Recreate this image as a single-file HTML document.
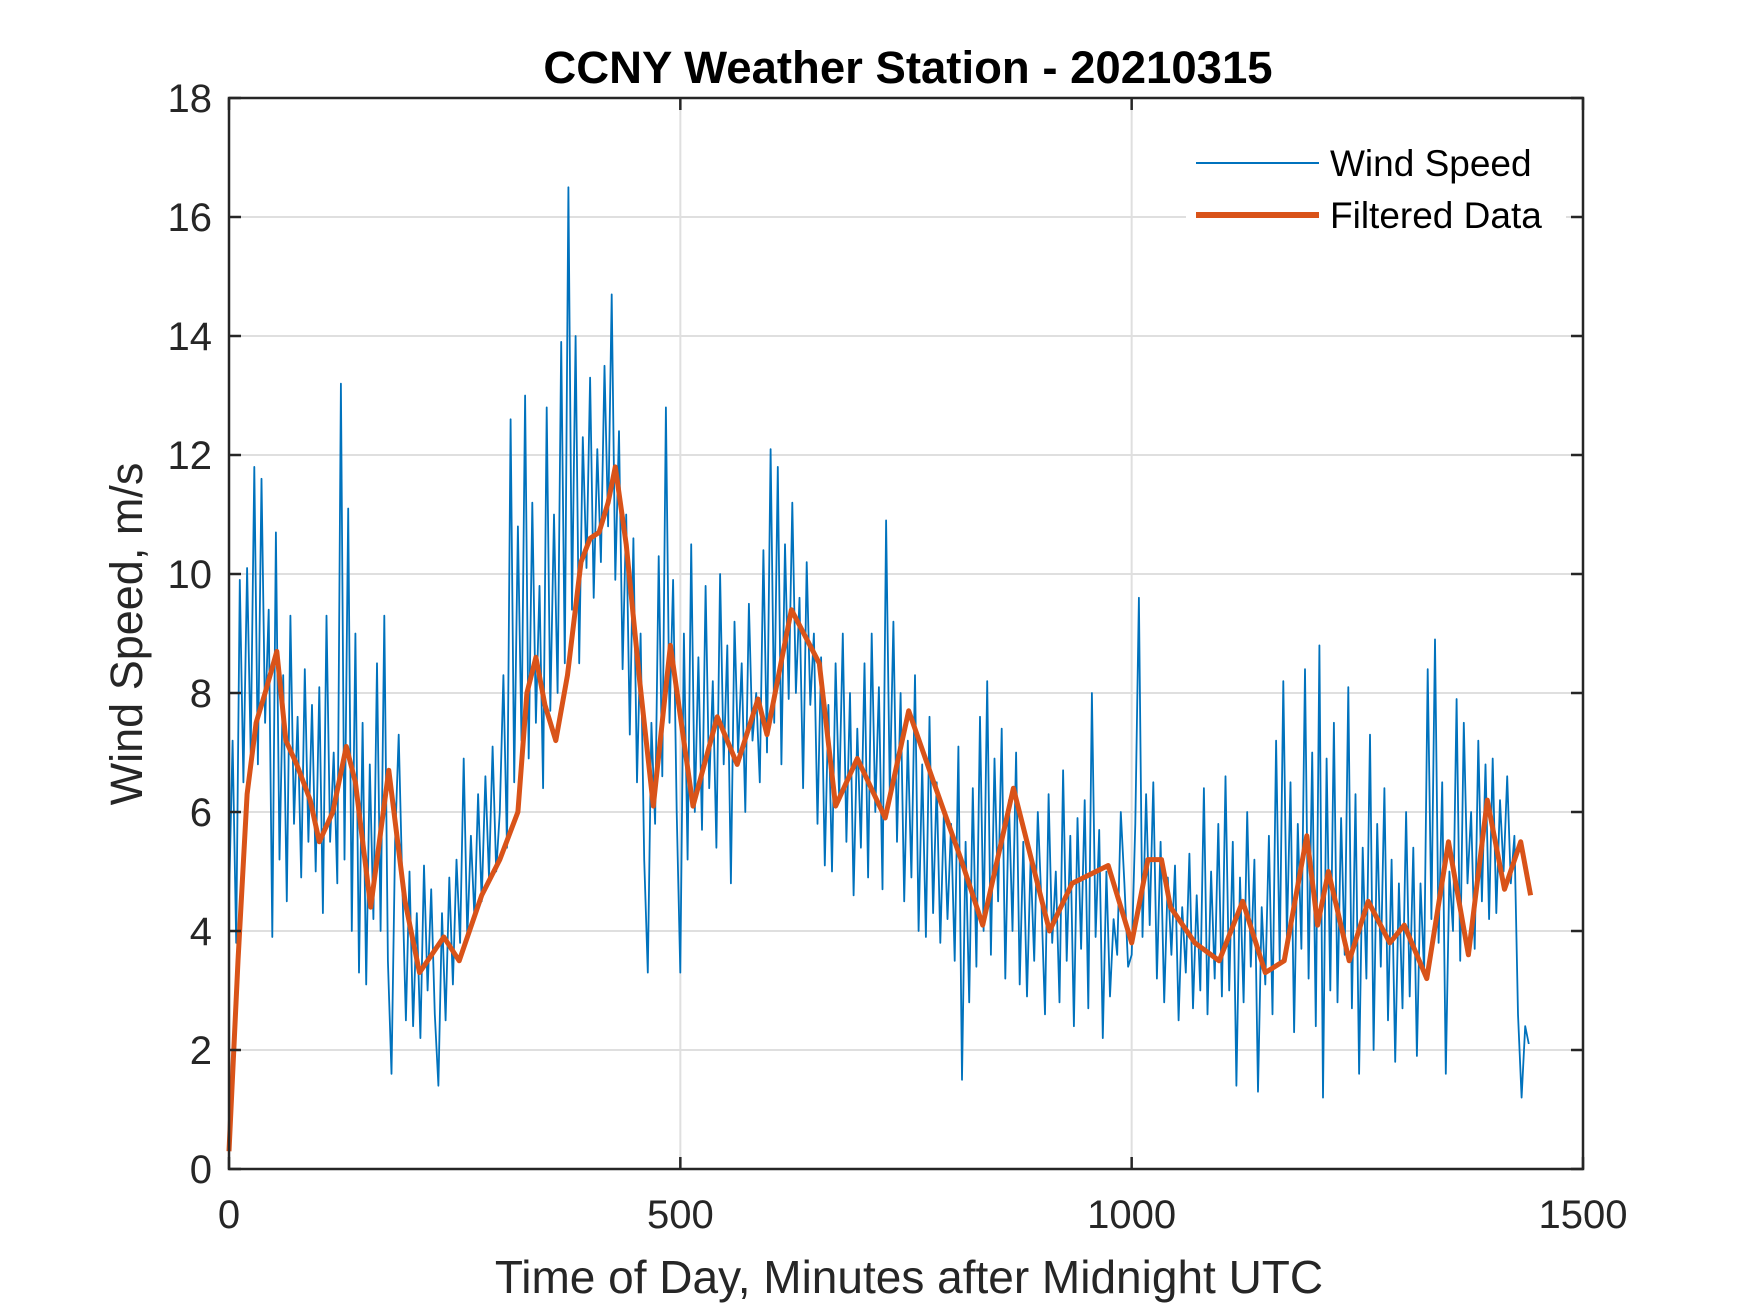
<!DOCTYPE html>
<html><head><meta charset="utf-8"><style>
html,body{margin:0;padding:0;background:#fff;}
svg{display:block;font-family:"Liberation Sans",Arial,sans-serif;}
</style></head><body>
<svg id="chart" width="1750" height="1313" viewBox="0 0 1750 1313" xmlns="http://www.w3.org/2000/svg">
<rect width="1750" height="1313" fill="#fff"/>
<g id="grid"></g>
<g id="series"></g>
<g id="axes"></g>
<text x="908" y="83" text-anchor="middle" font-size="45.5" font-weight="bold" fill="#000">CCNY Weather Station - 20210315</text>
<text x="909" y="1293" text-anchor="middle" font-size="46" fill="#262626">Time of Day, Minutes after Midnight UTC</text>
<text transform="translate(142,634) rotate(-90)" text-anchor="middle" font-size="45" fill="#262626">Wind Speed, m/s</text>
<g>
<rect x="1186" y="128" width="380" height="115" fill="#fff"/>
<line x1="1196" y1="163" x2="1319" y2="163" stroke="#0072BD" stroke-width="2"/>
<text x="1330" y="176" font-size="37" fill="#000">Wind Speed</text>
<line x1="1196" y1="215" x2="1319" y2="215" stroke="#D95319" stroke-width="6"/>
<text x="1330" y="228" font-size="37" fill="#000">Filtered Data</text>
</g>
</svg>
<script>
const xTicks=[0,500,1000,1500];
const yTicks=[0,2,4,6,8,10,12,14,16,18];
const windStep=4;
const windV=[4.5,7.2,3.8,9.9,6.5,10.1,7,11.8,6.8,11.6,7.5,9.4,3.9,10.7,5.2,8.3,4.5,9.3,5.8,7.6,4.9,8.4,5.5,7.8,5.0,
8.1,4.3,9.3,5.5,7.0,4.8,13.2,5.2,11.1,4.0,9.0,3.3,7.5,3.1,6.8,4.2,8.5,4.0,9.3,3.5,1.6,5.5,7.3,4.8,2.5,
5.0,2.4,4.3,2.2,5.1,3.0,4.7,2.6,1.4,4.3,2.5,4.9,3.1,5.2,3.8,6.9,3.9,5.6,4.2,6.3,4.5,6.6,4.9,7.1,5.0,
6.0,8.3,5.4,12.6,6.5,10.8,7.2,13.0,6.9,11.2,7.5,9.8,6.4,12.8,7.7,11.0,8.0,13.9,8.5,16.5,9.4,14.0,8.5,12.3,10.1,
13.3,9.6,12.1,10.2,13.5,10.8,14.7,9.9,12.4,8.4,11.0,7.3,10.6,6.5,9.0,5.2,3.3,7.5,5.8,10.3,6.6,12.8,7.5,9.9,6.0,
3.3,9.0,5.2,10.5,6.0,8.6,5.7,9.8,6.4,8.2,5.4,10.0,6.8,8.8,4.8,9.2,7.0,8.5,6.0,9.5,7.2,8.0,6.5,10.4,7.0,
12.1,7.5,11.8,6.8,10.5,7.9,11.2,8.0,9.6,6.4,10.2,7.8,9.0,5.8,8.6,5.1,7.8,5.0,8.5,6.2,9.0,5.5,8.0,4.6,7.4,
5.4,8.5,4.9,9.0,6.0,8.1,4.7,10.9,6.3,9.2,5.5,8.0,4.5,7.2,4.9,8.3,4.0,6.8,3.9,7.6,4.3,6.5,3.8,6.0,4.2,
5.8,3.5,7.1,1.5,5.5,2.8,6.4,3.4,7.6,4.0,8.2,3.6,6.9,4.5,7.4,3.2,6.2,4.0,7.0,3.1,5.5,2.9,5.2,3.5,6.0,
4.5,2.6,6.3,3.8,5.0,2.8,6.7,3.5,5.6,2.4,5.9,3.7,6.2,2.7,8.0,3.9,5.7,2.2,5.0,2.9,4.2,3.6,6.0,4.8,3.4,
3.6,5.8,9.6,3.9,6.3,4.1,6.5,3.2,5.5,2.8,4.9,3.6,5.1,2.5,4.4,3.3,5.3,2.7,4.6,3.0,6.4,2.6,5.0,3.2,5.8,
2.9,6.6,3.0,5.5,1.4,4.9,2.8,6.0,3.4,5.2,1.3,4.4,3.1,5.6,2.6,7.2,3.5,8.2,3.9,6.5,2.3,5.8,3.7,8.4,3.2,
7.0,2.4,8.8,1.2,6.9,3.0,7.5,2.8,5.9,3.6,8.1,2.7,6.3,1.6,5.4,3.2,7.3,2.0,5.8,3.4,6.4,2.5,5.2,1.8,4.8,
2.7,6.0,2.9,5.4,1.9,4.8,3.3,8.4,4.2,8.9,3.8,6.5,1.6,5.0,4.0,7.9,3.5,7.5,4.8,6.0,3.7,7.2,4.5,6.8,4.2,
6.9,4.3,6.2,5.0,6.6,4.8,5.6,2.6,1.2,2.4,2.1];
const filtT=[0,10,20,30,40,53,63,75,90,100,115,130,140,157,177,195,211,238,255,280,300,320,330,340,350,362,375,390,400,410,420,428,440,455,470,489,514,541,563,586,596,623,654,672,696,727,753,783,811,835,869,909,934,974,1000,1018,1033,1043,1070,1097,1123,1148,1169,1194,1206,1218,1241,1262,1286,1302,1327,1351,1373,1394,1413,1431,1442];
const filtV=[0.3,3.5,6.3,7.5,8.0,8.7,7.2,6.8,6.2,5.5,6.0,7.1,6.5,4.4,6.7,4.5,3.3,3.9,3.5,4.6,5.2,6.0,8.0,8.6,7.8,7.2,8.3,10.2,10.6,10.7,11.2,11.8,10.5,8.2,6.1,8.8,6.1,7.6,6.8,7.9,7.3,9.4,8.5,6.1,6.9,5.9,7.7,6.4,5.2,4.1,6.4,4.0,4.8,5.1,3.8,5.2,5.2,4.4,3.8,3.5,4.5,3.3,3.5,5.6,4.1,5.0,3.5,4.5,3.8,4.1,3.2,5.5,3.6,6.2,4.7,5.5,4.6];

const L=229,R=1583,T=98,B=1169;
const xS=v=>L+(v-0)/(1500-0)*(R-L);
const yS=v=>B-(v-0)/(18-0)*(B-T);
const NS='http://www.w3.org/2000/svg';
function mk(tag,attrs,parent){const e=document.createElementNS(NS,tag);for(const k in attrs)e.setAttribute(k,attrs[k]);parent.appendChild(e);return e;}
const grid=document.getElementById('grid'),axes=document.getElementById('axes'),series=document.getElementById('series');
xTicks.forEach(t=>{
  const x=xS(t);
  if(t>0&&t<1500){const g=mk('line',{x1:x,y1:T,x2:x,y2:B,stroke:'#dfdfdf','stroke-width':2},grid);
  
  }
  const a=mk('line',{x1:x,y1:B,x2:x,y2:B-12,stroke:'#262626','stroke-width':2.5},axes);
  
  
  const b=mk('line',{x1:x,y1:T,x2:x,y2:T+12,stroke:'#262626','stroke-width':2.5},axes);
  
  
  const tx=mk('text',{x:x,y:B+59,'text-anchor':'middle','font-size':40,fill:'#262626'},axes);
  tx.textContent=t;
  
  
});
yTicks.forEach(t=>{
  const y=yS(t);
  if(t>0&&t<18){const g=mk('line',{x1:L,y1:y,x2:R,y2:y,stroke:'#dfdfdf','stroke-width':2},grid);
  
  }
  const a=mk('line',{x1:L,y1:y,x2:L+12,y2:y,stroke:'#262626','stroke-width':2.5},axes);
  
  
  const b=mk('line',{x1:R,y1:y,x2:R-12,y2:y,stroke:'#262626','stroke-width':2.5},axes);
  
  
  const tx=mk('text',{x:L-17,y:y+14,'text-anchor':'end','font-size':40,fill:'#262626'},axes);
  tx.textContent=t;
  
  
});
const frame=mk('rect',{x:L,y:T,width:R-L,height:B-T,fill:'none',stroke:'#262626','stroke-width':2.5},axes);


const wp=windV.map((v,i)=>xS(i*windStep).toFixed(1)+','+yS(v).toFixed(1)).join(' ');
const wl=mk('polyline',{points:wp,fill:'none',stroke:'#0072BD','stroke-width':1.8,'stroke-linejoin':'round'},series);


const fp=filtV.map((v,i)=>xS(filtT[i]).toFixed(1)+','+yS(v).toFixed(1)).join(' ');
const fl=mk('polyline',{points:fp,fill:'none',stroke:'#D95319','stroke-width':5,'stroke-linejoin':'round'},series);


</script>
</body></html>
